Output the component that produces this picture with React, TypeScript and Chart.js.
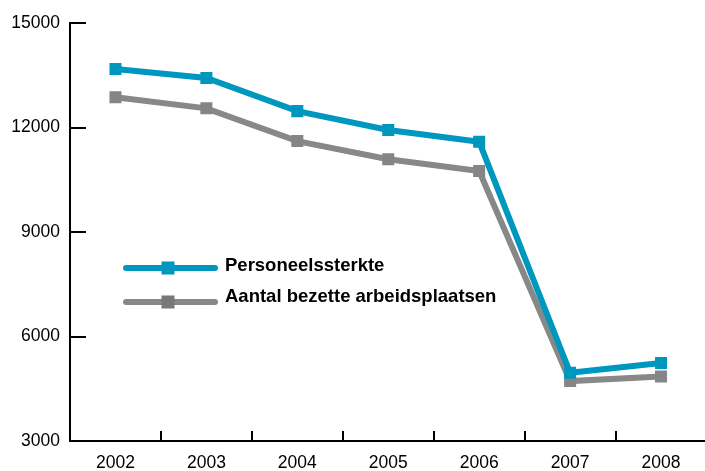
import React, { useEffect, useRef } from "react";
import { Chart, registerables } from "chart.js";

Chart.register(...registerables);

const years = ["2002", "2003", "2004", "2005", "2006", "2007", "2008"];
const personeelssterkte = [13680, 13420, 12470, 11930, 11590, 4960, 5240];
const bezetteArbeidsplaatsen = [12870, 12550, 11610, 11090, 10750, 4720, 4850];
const seriesNames = ["Personeelssterkte", "Aantal bezette arbeidsplaatsen"];
const yTicks = [3000, 6000, 9000, 12000, 15000];

const BLUE = "#0097bf";
const GRAY = "#888888";
const LEGEND_MARKERS = ["#0097bf", "#787878"];

const FONT = "'Liberation Sans', Arial, Helvetica, sans-serif";
const CANVAS_W = 715;

const customPlugin = {
  id: "custom",
  afterDraw(chart: any) {
    const ctx = chart.ctx;
    const area = chart.chartArea;
    const xs = chart.scales.x;
    const ys = chart.scales.y;
    ctx.save();
    ctx.strokeStyle = "#000";
    ctx.lineWidth = 2;
    for (const v of yTicks) {
      const py = Math.round(ys.getPixelForValue(v));
      ctx.beginPath();
      ctx.moveTo(area.left, py);
      ctx.lineTo(area.left + 16, py);
      ctx.stroke();
    }
    for (let i = 1; i < years.length; i++) {
      const px = Math.round((xs.getPixelForValue(i - 1) + xs.getPixelForValue(i)) / 2);
      ctx.beginPath();
      ctx.moveTo(px, area.bottom);
      ctx.lineTo(px, area.bottom - 10);
      ctx.stroke();
    }
    const rows = [268, 302];
    const baselines = [271, 302];
    chart.data.datasets.forEach((ds: any, i: number) => {
      const y = rows[i];
      ctx.strokeStyle = ds.borderColor;
      ctx.lineWidth = 6;
      ctx.lineCap = "round";
      ctx.beginPath();
      ctx.moveTo(126, y);
      ctx.lineTo(215, y);
      ctx.stroke();
      ctx.fillStyle = LEGEND_MARKERS[i];
      ctx.fillRect(168 - 6.5, y - 6.5, 13, 13);
      ctx.fillStyle = "#000";
      ctx.font = `bold 18.5px ${FONT}`;
      ctx.textBaseline = "alphabetic";
      ctx.textAlign = "left";
      ctx.fillText(ds.label, 225, baselines[i]);
    });
    ctx.restore();
  },
};

export default function App() {
  const ref = useRef<HTMLCanvasElement | null>(null);
  useEffect(() => {
    if (!ref.current) return;
    const chart = new Chart(ref.current, {
      type: "line",
      data: {
        labels: years,
        datasets: [
          {
            label: seriesNames[0],
            data: personeelssterkte,
            borderColor: BLUE,
            backgroundColor: BLUE,
            borderWidth: 6,
            pointStyle: "rect",
            pointRadius: 8.5,
            pointBorderWidth: 0,
            pointBackgroundColor: BLUE,
            borderJoinStyle: "miter",
            tension: 0,
          },
          {
            label: seriesNames[1],
            data: bezetteArbeidsplaatsen,
            borderColor: GRAY,
            backgroundColor: GRAY,
            borderWidth: 6,
            pointStyle: "rect",
            pointRadius: 8.5,
            pointBorderWidth: 0,
            pointBackgroundColor: "#858585",
            borderJoinStyle: "miter",
            tension: 0,
          },
        ],
      },
      options: {
        animation: false,
        responsive: false,
        maintainAspectRatio: false,
        layout: { padding: { top: 23, right: 0, left: 0, bottom: 0 } },
        plugins: {
          legend: { display: false },
          tooltip: { enabled: false },
        },
        scales: {
          x: {
            offset: true,
            grid: { display: false, drawTicks: false },
            border: { display: true, color: "#000", width: 2 },
            ticks: {
              color: "#000",
              font: { family: FONT, size: 17.5 },
              padding: 12,
              maxRotation: 0,
            },
            afterFit(scale: any) {
              scale.height = 30;
            },
          },
          y: {
            min: 3000,
            max: 15000,
            grid: { display: false, drawTicks: false },
            border: { display: true, color: "#000", width: 2 },
            afterBuildTicks(scale: any) {
              scale.ticks = yTicks.map((v) => ({ value: v }));
            },
            ticks: {
              color: "#000",
              font: { family: FONT, size: 17.5 },
              padding: 10,
              callback: (v: any) => String(v),
            },
            afterFit(scale: any) {
              scale.width = 70;
            },
          },
        },
      },
      plugins: [customPlugin],
    });
    return () => chart.destroy();
  }, []);
  return (
    <div style={{ position: "fixed", left: 0, top: 0, width: 705, height: 471, background: "#fff", overflow: "hidden" }}>
      <canvas ref={ref} width={CANVAS_W} height={471} style={{ width: CANVAS_W, height: 471, display: "block" }} />
    </div>
  );
}
